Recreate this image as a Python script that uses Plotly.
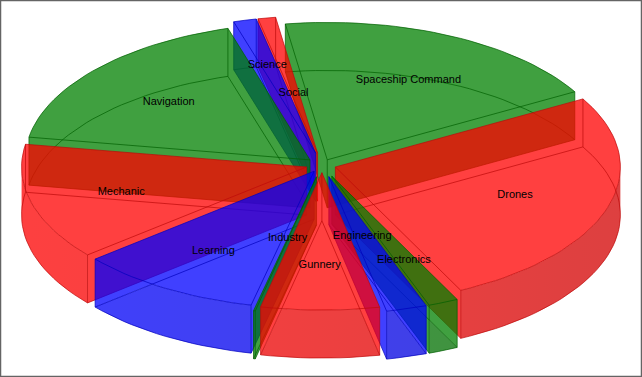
import math
import plotly.graph_objects as go

# Data: clockwise from the Drones slice
categories = ["Drones", "Electronics", "Engineering", "Gunnery", "Industry", "Learning",
              "Mechanic", "Navigation", "Science", "Social", "Spaceship Command"]
values = [26.0, 1.7, 2.3, 6.7, 0.1, 10.4, 13.7, 17.7, 1.3, 1.0, 19.1]

# Presentation
colors = {"R": (255, 0, 0), "G": (0, 128, 0), "B": (0, 0, 255)}
slice_color = ["R", "G", "B", "R", "G", "B", "R", "G", "B", "R", "G"]
line_color = {"R": "rgba(190,10,10,0.7)", "G": "rgba(0,95,0,0.7)", "B": "rgba(0,0,190,0.7)"}
explode = [14, 25, 25, 16, 25, 15, 16, 16, 25, 25, 12]
label_r = [203, 212, 151, 205, 153, 206, 207, 203, 216, 154, 200]
paint_order = ["Spaceship Command", "Social", "Science", "Navigation", "Mechanic", "Drones",
               "Learning", "Electronics", "Engineering", "Industry", "Gunnery"]
START, CX, CY, RAD, K, H = 29.7, 322, 165, 285, 0.482, 48
LABEL_DX, LABEL_DY = -1, 1.5
ALPHA = 0.75


def pt(r, deg, cx=0.0, cy=0.0, dz=0.0):
    a = math.radians(deg)
    return (CX + cx + r * math.cos(a), CY + cy - K * r * math.sin(a) + dz)


def signed(poly):
    return sum(poly[i][0] * poly[(i + 1) % len(poly)][1] - poly[(i + 1) % len(poly)][0] * poly[i][1]
               for i in range(len(poly)))


def oriented(poly):
    return poly if signed(poly) > 0 else poly[::-1]


def clip(poly, p, q, keep_left):
    """Clip poly to one side of the line p-q."""
    def side(c):
        v = (q[0] - p[0]) * (c[1] - p[1]) - (q[1] - p[1]) * (c[0] - p[0])
        return v if keep_left else -v
    out = []
    for i, c in enumerate(poly):
        d = poly[(i + 1) % len(poly)]
        sc, sd = side(c), side(d)
        if sc >= 0:
            out.append(c)
        if sc * sd < 0:
            t = sc / (sc - sd)
            out.append((c[0] + t * (d[0] - c[0]), c[1] + t * (d[1] - c[1])))
    return out


def subtract(polys, convex):
    """Remove a convex polygon from each polygon in polys; returns pieces."""
    conv = oriented(convex)
    res = []
    for sub in polys:
        rest = sub
        for i in range(len(conv)):
            p, q = conv[i], conv[(i + 1) % len(conv)]
            piece = clip(rest, p, q, False)
            if len(piece) >= 3 and abs(signed(piece)) > 1e-6:
                res.append(piece)
            rest = clip(rest, p, q, True)
            if len(rest) < 3:
                break
    return res


def xy(polys, close=True):
    xs, ys = [], []
    for p in polys:
        q = p + [p[0]] if close else p
        xs += [c[0] for c in q] + [None]
        ys += [c[1] for c in q] + [None]
    return xs[:-1], ys[:-1]


total = sum(values)
geo = {}
a = START
for name, v, col, e, lr in zip(categories, values, slice_color, explode, label_r):
    span = v / total * 360
    geo[name] = dict(a1=a - span, a2=a, col=col, e=e, lr=lr)
    a -= span

fig = go.Figure()
for name in paint_order:
    g = geo[name]
    a1, a2, e, cn = g["a1"], g["a2"], g["e"], g["col"]
    mid = (a1 + a2) / 2
    rad = math.radians(mid)
    ox, oy = e * math.cos(rad), -K * e * math.sin(rad)
    rgb = colors[cn]
    n = max(2, int((a2 - a1) / 2) + 1)
    angs = [a1 + (a2 - a1) * i / (n - 1) for i in range(n)]
    arc_t = [pt(RAD, t, ox, oy) for t in angs]
    arc_b = [pt(RAD, t, ox, oy, H) for t in angs]
    apex_t, apex_b = pt(0, 0, ox, oy), pt(0, 0, ox, oy, H)
    top = [apex_t] + arc_t
    bottom = [apex_b] + arc_b
    wall1 = [apex_t, arc_t[0], arc_b[0], apex_b]
    wall2 = [apex_t, arc_t[-1], arc_b[-1], apex_b]
    fx, fy = xy([oriented(top), oriented(wall1), oriented(wall2)])
    fig.add_trace(go.Scatter(x=fx, y=fy, mode="none", fill="toself",
                             fillcolor=f"rgba({rgb[0]},{rgb[1]},{rgb[2]},{ALPHA})"))
    # curved outer wall (facing the viewer), shaded by the direction it faces
    front = [t for t in angs if math.sin(math.radians(t)) <= 0]
    if len(front) >= 2:
        pieces = []
        for i in range(len(front) - 1):
            quad = [pt(RAD, front[i], ox, oy), pt(RAD, front[i + 1], ox, oy),
                    pt(RAD, front[i + 1], ox, oy, H), pt(RAD, front[i], ox, oy, H)]
            pieces.append(oriented(quad))
        pieces = subtract(pieces, wall1)
        pieces = subtract(pieces, wall2)
        pieces = [oriented(p) for p in pieces]
        if pieces:
            sx, sy = xy(pieces)
            x0, x1 = CX - RAD - 20, CX + RAD + 20
            stops = []
            for i in range(11):
                u = i / 10
                cosv = max(-1, min(1, (x0 + (x1 - x0) * u - CX) / RAD))
                f = 0.91 - 0.085 * cosv
                c = [int(v * f) for v in rgb]
                stops.append([u, f"rgba({c[0]},{c[1]},{c[2]},{ALPHA})"])
            fig.add_trace(go.Scatter(x=sx, y=sy, mode="none", fill="toself",
                                     fillgradient=dict(type="horizontal", colorscale=stops,
                                                       start=x0, stop=x1)))
    segs = [top + [top[0]], bottom + [bottom[0]],
            [apex_t, apex_b], [arc_t[0], arc_b[0]], [arc_t[-1], arc_b[-1]]]
    lx, ly = xy(segs, close=False)
    fig.add_trace(go.Scatter(x=lx, y=ly, mode="lines", line=dict(color=line_color[cn], width=1)))

lab = [pt(geo[n]["lr"], (geo[n]["a1"] + geo[n]["a2"]) / 2, LABEL_DX, LABEL_DY) for n in categories]
fig.add_trace(go.Scatter(x=[p[0] for p in lab], y=[p[1] for p in lab], mode="text", text=categories,
                         textposition="middle center",
                         textfont=dict(family="Liberation Sans", size=11, color="#000000")))

fig.add_shape(type="rect", xref="paper", yref="paper", x0=0, x1=1, y0=0, y1=1,
              line=dict(color="#646464", width=2.5), layer="above")
fig.update_layout(width=642, height=377, autosize=False, showlegend=False,
                  margin=dict(l=0, r=0, t=0, b=0), paper_bgcolor="white", plot_bgcolor="white",
                  xaxis=dict(range=[0, 642], visible=False, fixedrange=True),
                  yaxis=dict(range=[377, 0], visible=False, fixedrange=True))
fig.write_html("out.html", config={"displayModeBar": False},
               post_script="document.body.style.margin='0';document.documentElement.style.overflow='hidden';")
